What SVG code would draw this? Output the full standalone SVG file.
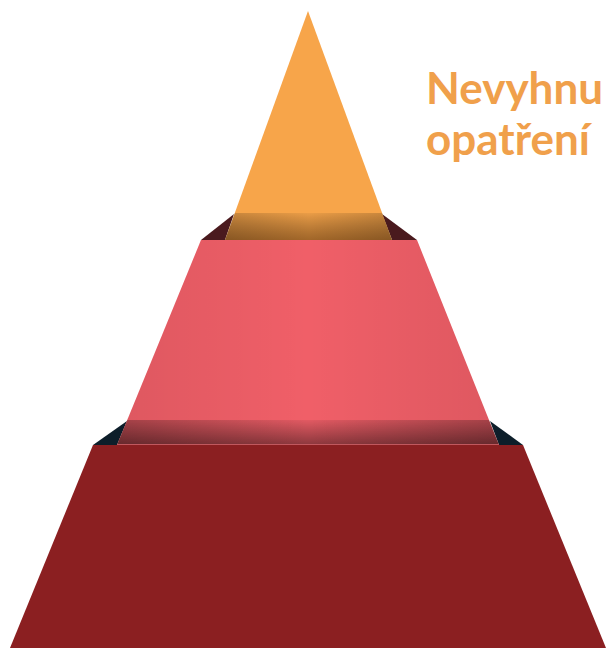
<svg xmlns="http://www.w3.org/2000/svg" width="606" height="648" viewBox="0 0 606 648">
<style>
.lbl{font-family:Lato,"Liberation Sans",sans-serif;font-weight:700;font-size:44px;fill:#F0A04B}
</style>
<defs>
<linearGradient id="hshade" x1="0" y1="0" x2="1" y2="0">
<stop offset="0" stop-color="#000" stop-opacity="0.22"/>
<stop offset="0.5" stop-color="#000" stop-opacity="0"/>
<stop offset="1" stop-color="#000" stop-opacity="0.22"/>
</linearGradient>
<linearGradient id="vshadeP" x1="0" y1="0" x2="0" y2="1">
<stop offset="0" stop-color="#000" stop-opacity="0.06"/>
<stop offset="1" stop-color="#000" stop-opacity="0.42"/>
</linearGradient>
<linearGradient id="vshadeO" x1="0" y1="0" x2="0" y2="1">
<stop offset="0" stop-color="#000" stop-opacity="0.05"/>
<stop offset="1" stop-color="#3a1a00" stop-opacity="0.45"/>
</linearGradient>
<clipPath id="cpTop"><polygon points="308,11 392,240 225,240"/></clipPath>
<clipPath id="cpMid"><polygon points="201,240 417,240 499,445 117,445"/></clipPath>
</defs>
<g id="back">
<polygon points="201,240 234,214 225,240" fill="#4A1A1E"/>
<polygon points="417,240 382,214 392,240" fill="#4A1A1E"/>
<polygon points="93,445 127,421 117,445" fill="#0D1E2A"/>
<polygon points="523,445 490,421 499,445" fill="#0D1E2A"/>
</g>
<g id="layer-top">
<polygon points="308,11 392,240 225,240" fill="#F7A54A"/>
<g clip-path="url(#cpTop)">
<rect x="200" y="213" width="220" height="27" fill="url(#vshadeO)"/>
<rect x="225" y="213" width="167" height="27" fill="url(#hshade)" opacity="0.7"/>
</g>
</g>
<g id="layer-middle">
<polygon points="201,240 417,240 499,445 117,445" fill="#F05F68"/>
<g clip-path="url(#cpMid)">
<rect x="117" y="240" width="382" height="205" fill="url(#hshade)" opacity="0.35"/>
<rect x="100" y="420" width="410" height="25" fill="url(#vshadeP)"/>
<rect x="117" y="420" width="382" height="25" fill="url(#hshade)"/>
</g>
<line x1="117" y1="444.5" x2="499" y2="444.5" stroke="#C0585E" stroke-width="1"/>
</g>
<g id="layer-bottom">
<polygon points="93,445 523,445 606,648 10,648" fill="#8B1F21"/>
</g>
<g id="label">
<text class="lbl" x="426" y="104">Nevyhnu</text>
<text class="lbl" x="426" y="155">opatření</text>
</g>
<g id="connectors"/>
</svg>
